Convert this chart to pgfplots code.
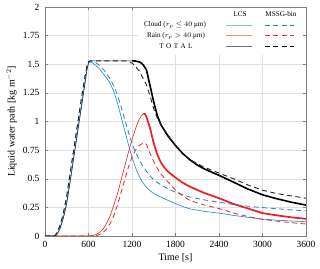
\documentclass[border=0pt]{standalone}
\usepackage{fontspec}
\setmainfont{Liberation Serif}
\usepackage{pgfplots}
\pgfplotsset{compat=1.18}
\usepackage{pgfplotstable}
\definecolor{cblue}{RGB}{30,128,200}
\definecolor{cred}{RGB}{235,32,36}
\definecolor{lblue}{RGB}{140,190,230}
\definecolor{lred}{RGB}{245,140,140}
\definecolor{lgray}{RGB}{110,110,110}
\definecolor{framec}{RGB}{125,125,125}

% LCS total
\pgfplotstableread{
t v
0 0
130 0
150 0.005
180 0.03
210 0.07
240 0.13
270 0.2
300 0.29
350 0.49
400 0.7
450 0.91
500 1.12
550 1.33
580 1.46
600 1.51
620 1.525
650 1.53
1200 1.53
1250 1.528
1300 1.52
1330 1.51
1360 1.49
1400 1.45
1450 1.31
1500 1.17
1550 1.05
1600 0.97
1650 0.92
1700 0.87
1800 0.79
1900 0.72
2000 0.665
2100 0.62
2200 0.585
2400 0.53
2600 0.47
2800 0.41
3000 0.36
3200 0.325
3400 0.295
3600 0.27
}\lcstot

% MSSG total
\pgfplotstableread{
t v
0 0
120 0
140 0.005
170 0.035
200 0.08
230 0.14
260 0.22
300 0.35
350 0.56
400 0.77
450 0.98
500 1.19
550 1.39
580 1.49
600 1.525
630 1.53
1100 1.53
1150 1.525
1200 1.51
1250 1.48
1300 1.44
1350 1.38
1400 1.32
1450 1.22
1500 1.11
1550 1.03
1600 0.97
1700 0.88
1800 0.79
1900 0.72
2000 0.665
2200 0.60
2400 0.55
2600 0.50
2800 0.445
3000 0.40
3200 0.37
3400 0.35
3600 0.33
}\mssgtot

% LCS cloud
\pgfplotstableread{
t v
0 0
130 0
150 0.005
180 0.03
210 0.07
240 0.13
270 0.2
300 0.29
350 0.49
400 0.7
450 0.91
500 1.12
550 1.33
580 1.46
600 1.51
620 1.52
650 1.515
700 1.49
750 1.46
800 1.42
850 1.38
900 1.33
950 1.26
1000 1.16
1050 1.04
1100 0.92
1150 0.80
1200 0.69
1250 0.595
1300 0.52
1350 0.465
1400 0.425
1450 0.395
1500 0.372
1550 0.355
1600 0.34
1700 0.31
1800 0.283
1900 0.258
2000 0.237
2200 0.215
2400 0.20
2600 0.18
2800 0.163
3000 0.147
3200 0.138
3400 0.131
3600 0.125
}\lcscloud

% MSSG cloud
\pgfplotstableread{
t v
0 0
120 0
140 0.005
170 0.035
200 0.08
230 0.14
260 0.22
300 0.35
350 0.56
400 0.77
450 0.98
500 1.19
550 1.39
580 1.49
600 1.525
630 1.53
700 1.515
750 1.49
800 1.46
850 1.42
900 1.37
950 1.31
1000 1.23
1050 1.13
1100 1.02
1150 0.91
1200 0.81
1250 0.73
1300 0.665
1350 0.61
1400 0.565
1450 0.525
1500 0.49
1600 0.445
1700 0.41
1800 0.383
1900 0.36
2000 0.34
2200 0.315
2400 0.295
2600 0.275
2800 0.26
3000 0.248
3200 0.238
3400 0.228
3600 0.22
}\mssgcloud

% LCS rain
\pgfplotstableread{
t v
0 0
600 0
650 0.003
700 0.012
750 0.03
800 0.06
850 0.11
900 0.18
950 0.27
1000 0.37
1050 0.49
1100 0.61
1150 0.73
1200 0.84
1250 0.94
1300 1.02
1330 1.05
1360 1.07
1380 1.065
1400 1.04
1450 0.94
1500 0.81
1550 0.71
1600 0.64
1650 0.595
1700 0.56
1800 0.51
1900 0.465
2000 0.43
2200 0.375
2400 0.33
2600 0.28
2800 0.24
3000 0.20
3200 0.18
3400 0.163
3600 0.15
}\lcsrain

% MSSG rain
\pgfplotstableread{
t v
0 0
650 0
700 0.003
750 0.012
800 0.03
850 0.06
900 0.11
950 0.18
1000 0.27
1050 0.38
1100 0.49
1150 0.60
1200 0.69
1250 0.75
1300 0.79
1350 0.81
1380 0.812
1400 0.80
1450 0.72
1500 0.65
1550 0.59
1600 0.54
1700 0.47
1800 0.40
1900 0.35
2000 0.31
2200 0.27
2400 0.24
2600 0.20
2800 0.17
3000 0.145
3200 0.13
3400 0.116
3600 0.105
}\mssgrain

\begin{document}
\begin{tikzpicture}
\path[use as bounding box] (-45bp,-33bp) rectangle (275bp,236bp);
\begin{axis}[
  at={(0,0)}, anchor=south west,
  scale only axis, width=261bp, height=229bp,
  xmin=0, xmax=3600, ymin=0, ymax=2,
  xtick={0,600,1200,1800,2400,3000,3600},
  xticklabels={0,600,1200,1800,2400,3000,3600},
  ytick={0,0.25,0.5,0.75,1,1.25,1.5,1.75,2},
  yticklabels={0,0.25,0.5,0.75,1,1.25,1.5,1.75,2},
  tick label style={font=\fontsize{9.5}{11}\selectfont},
  xticklabel style={yshift=-1.5bp},
  yticklabel style={xshift=-2bp},
  tick align=inside,
  major tick length=3bp,
  tick style={framec, line width=0.4bp},
  axis line style={framec, line width=0.6bp},
  grid=major,
  major grid style={black!12, line width=0.4bp},
  xlabel={Time [s]},
  ylabel={Liquid water path [kg m$^{-2}$]},
  label style={font=\fontsize{9}{11}\selectfont},
  every axis x label/.style={at={(axis description cs:0.5,-0.096)}, anchor=center},
  every axis y label/.style={at={(axis description cs:-0.128,0.5)}, anchor=center, rotate=90},
]
% white legend background
\fill[white] (axis cs:1280,1.585) rectangle (axis cs:3555,1.99);

% LCS (solid)
\addplot[cblue, line width=0.6bp] table[x=t,y=v] {\lcscloud};
\addplot[cred, line width=0.6bp] table[x=t,y=v] {\lcsrain};
\addplot[cred, line width=1.7bp, restrict x to domain=1340:3600] table[x=t,y=v] {\lcsrain};
\addplot[black!80, line width=0.6bp] table[x=t,y=v] {\lcstot};
\addplot[black, line width=1.6bp, restrict x to domain=1200:3600] table[x=t,y=v] {\lcstot};
% MSSG-bin (dashed)
\addplot[cblue, line width=0.8bp, dash pattern=on 5bp off 3.5bp] table[x=t,y=v] {\mssgcloud};
\addplot[cred, line width=0.8bp, dash pattern=on 5bp off 3.5bp] table[x=t,y=v] {\mssgrain};
\addplot[black!85, line width=0.9bp, dash pattern=on 5bp off 3.5bp] table[x=t,y=v] {\mssgtot};

% legend samples
\addplot[lblue, line width=0.8bp, forget plot] coordinates {(2496,1.843) (2855,1.843)};
\addplot[lred, line width=0.8bp, forget plot] coordinates {(2496,1.749) (2855,1.749)};
\addplot[lgray, line width=0.8bp, forget plot] coordinates {(2496,1.659) (2855,1.659)};
\addplot[cblue, line width=0.9bp, dash pattern=on 5bp off 3.5bp, forget plot] coordinates {(3034,1.843) (3434,1.843)};
\addplot[cred, line width=0.9bp, dash pattern=on 5bp off 3.5bp, forget plot] coordinates {(3034,1.749) (3434,1.749)};
\addplot[black, line width=0.9bp, dash pattern=on 5bp off 3.5bp, forget plot] coordinates {(3034,1.659) (3434,1.659)};
\end{axis}

% legend text (picture's bp frame: axis lower-left corner at (0,0))
\begin{scope}[font=\fontsize{7.2}{9}\selectfont]
\node at (195bp,222bp) {LCS};
\node at (236bp,222bp) {MSSG-bin};
\node at (130bp,211bp) {Cloud ($r_p \le 40$ μm)};
\node at (131bp,200.3bp) {Rain ($r_p > 40$ μm)};
\node at (131bp,190bp) {T\,\,O\,\,T\,\,A\,\,L};
\end{scope}
\end{tikzpicture}
\end{document}
